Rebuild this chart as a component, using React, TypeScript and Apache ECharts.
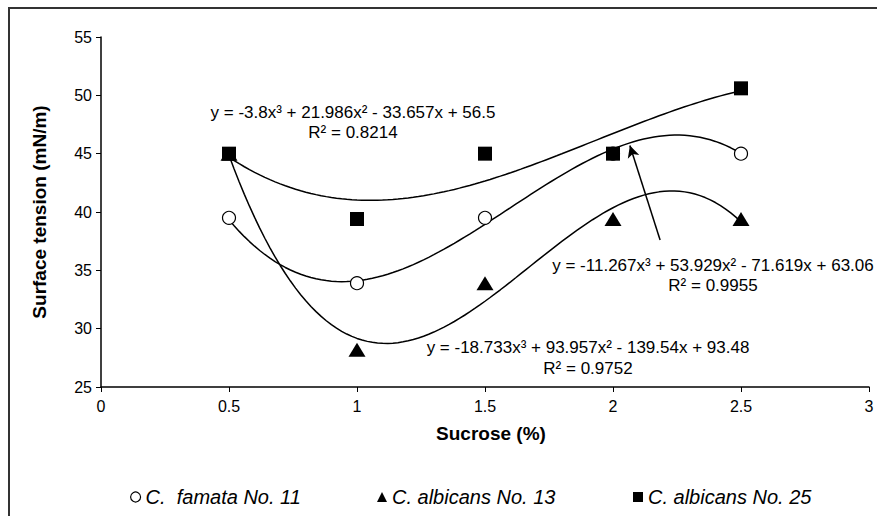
import React, { useEffect, useRef } from "react";
import * as echarts from "echarts";

const sucrose = [0.5, 1, 1.5, 2, 2.5];
const famata11 = [39.5, 33.9, 39.5, 45, 45];
const albicans13 = [45, 28.2, 33.9, 39.4, 39.4];
const albicans25 = [45, 39.4, 45, 45, 50.6];

// trendline coefficients as printed on the chart: [a3, a2, a1, a0]
const coefFamata11 = [-11.267, 53.929, -71.619, 63.06];
const coefAlbicans13 = [-18.733, 93.957, -139.54, 93.48];
const coefAlbicans25 = [-3.8, 21.986, -33.657, 56.5];

const seriesNames = ["C.  famata No. 11", "C. albicans No. 13", "C. albicans No. 25"];

const eqAlbicans25 = ["y = -3.8x³ + 21.986x² - 33.657x + 56.5", "R² = 0.8214"];
const eqFamata11 = ["y = -11.267x³ + 53.929x² - 71.619x + 63.06", "R² = 0.9955"];
const eqAlbicans13 = ["y = -18.733x³ + 93.957x² - 139.54x + 93.48", "R² = 0.9752"];

const arrowFrom = [2.184, 37.6];
const arrowTo = [2.066, 45.7];

function trend(c: number[]) {
  const pts: number[][] = [];
  for (let i = 0; i <= 100; i++) {
    const x = 0.5 + (2 * i) / 100;
    pts.push([x, ((c[0] * x + c[1]) * x + c[2]) * x + c[3]]);
  }
  return pts;
}

const FONT = "Liberation Sans, Arial, sans-serif";

function eqText(lines: string[], cx: number, y1: number, y2: number) {
  return lines.map((t, i) => ({
    type: "text",
    silent: true,
    style: {
      text: t,
      x: cx,
      y: i === 0 ? y1 : y2,
      align: "center",
      verticalAlign: "middle",
      textAlign: "center",
      textVerticalAlign: "middle",
      font: `17px ${FONT}`,
      fill: "#000",
    },
  }));
}

function legendAt(left: number, name: string, icon: string, itemStyle: any) {
  return {
    data: [{ name, icon, itemStyle }],
    left,
    top: 482,
    itemWidth: 10,
    itemHeight: 10,
    itemGap: 0,
    textStyle: { fontSize: 20, fontStyle: "italic", color: "#000", fontFamily: FONT },
    selectedMode: false,
  };
}

export default function App() {
  const ref = useRef<HTMLDivElement>(null);
  useEffect(() => {
    if (!ref.current) return;
    const chart = echarts.init(ref.current, null, { renderer: "svg" });
    const pair = (ys: number[]) => sucrose.map((x, i) => [x, ys[i]]);
    const lineCommon = {
      type: "line",
      showSymbol: false,
      symbol: "none",
      silent: true,
      lineStyle: { color: "#000", width: 1.5 },
      z: 2,
    };
    chart.setOption({
      animation: false,
      backgroundColor: "#fff",
      textStyle: { fontFamily: FONT },
      grid: { left: 101, right: 8, top: 37, bottom: 129, containLabel: false },
      xAxis: {
        type: "value",
        min: 0,
        max: 3,
        interval: 0.5,
        name: "Sucrose (%)",
        nameLocation: "middle",
        nameGap: 37,
        nameTextStyle: { fontSize: 19, fontWeight: "bold", color: "#000", fontFamily: FONT, padding: [0, 0, 0, 12] },
        axisLine: { show: true, lineStyle: { color: "#000", width: 1.5 } },
        axisTick: { show: true, inside: false, length: 5, lineStyle: { color: "#000" } },
        axisLabel: { fontSize: 16, color: "#000", margin: 11, fontFamily: FONT },
        splitLine: { show: false },
      },
      yAxis: {
        type: "value",
        min: 25,
        max: 55,
        interval: 5,
        name: "Surface tension (mN/m)",
        nameLocation: "middle",
        nameGap: 52,
        nameTextStyle: { fontSize: 19, fontWeight: "bold", color: "#000", fontFamily: FONT },
        axisLine: { show: true, lineStyle: { color: "#000", width: 1.5 } },
        axisTick: { show: true, inside: false, length: 5, lineStyle: { color: "#000" } },
        axisLabel: { fontSize: 16, color: "#000", margin: 9, fontFamily: FONT },
        splitLine: { show: false },
      },
      legend: [
        legendAt(125, seriesNames[0], "circle", { color: "#fff", borderColor: "#000", borderWidth: 1.2 }),
        legendAt(372, seriesNames[1], "triangle", { color: "#000" }),
        legendAt(628, seriesNames[2], "rect", { color: "#000" }),
      ],
      series: [
        { ...lineCommon, name: "t25", data: trend(coefAlbicans25) },
        { ...lineCommon, name: "t11", data: trend(coefFamata11) },
        {
          ...lineCommon,
          name: "t13",
          data: trend(coefAlbicans13),
          markLine: {
            silent: true,
            symbol: ["none", "arrow"],
            symbolSize: [9, 12],
            label: { show: false },
            lineStyle: { color: "#000", width: 1.5, type: "solid" },
            data: [[{ coord: arrowFrom }, { coord: arrowTo }]],
          },
        },
        {
          type: "scatter",
          name: seriesNames[0],
          data: pair(famata11),
          symbol: "circle",
          symbolSize: 13,
          itemStyle: { color: "#fff", borderColor: "#000", borderWidth: 1.2, opacity: 1 },
          z: 3,
        },
        {
          type: "scatter",
          name: seriesNames[1],
          data: pair(albicans13),
          symbol: "triangle",
          symbolSize: [17, 14],
          itemStyle: { color: "#000", opacity: 1 },
          z: 4,
        },
        {
          type: "scatter",
          name: seriesNames[2],
          data: pair(albicans25),
          symbol: "rect",
          symbolSize: 14,
          itemStyle: { color: "#000", opacity: 1 },
          z: 5,
        },
      ],
      graphic: [
        {
          type: "rect",
          silent: true,
          shape: { x: 9, y: 8, width: 1000, height: 1000 },
          style: { fill: "none", stroke: "#333", lineWidth: 2 },
          z: -1,
        },
        ...eqText(eqAlbicans25, 353, 112, 132),
        ...eqText(eqFamata11, 713, 265, 285),
        ...eqText(eqAlbicans13, 588, 347, 368),
      ],
    });
    return () => chart.dispose();
  }, []);
  return (
    <div
      ref={ref}
      style={{ position: "fixed", left: 0, top: 0, width: 877, height: 516, background: "#fff" }}
    />
  );
}
